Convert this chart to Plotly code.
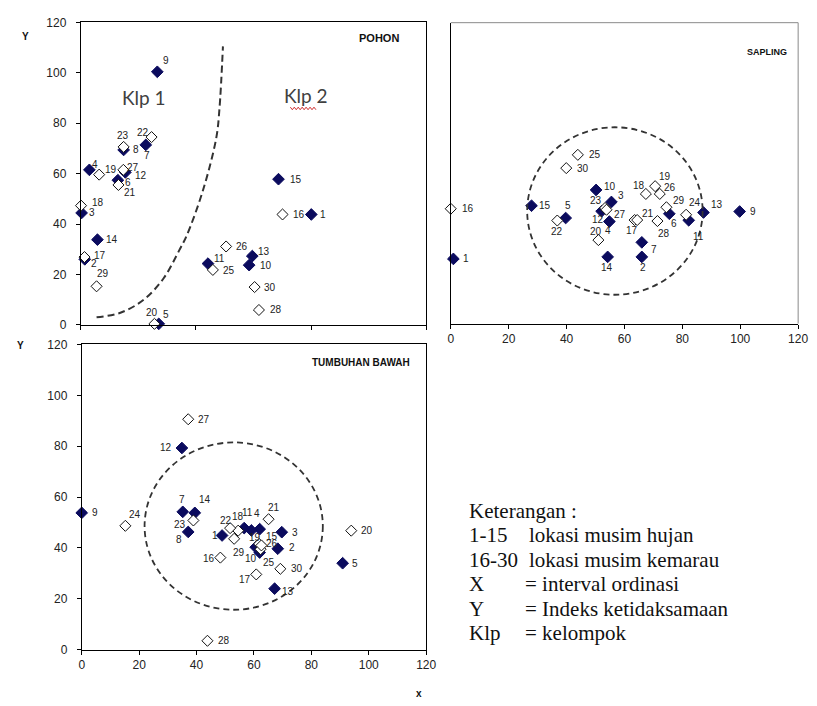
import plotly.graph_objects as go

W, H = 817, 706

# ---------------- data ----------------
ids_rain = list(range(1, 16))     # lokasi musim hujan (filled)
ids_dry = list(range(16, 31))     # lokasi musim kemarau (open)

# POHON
pohon_rain_x = [80.1, 1.4, 0.3, 3.0, 27.1, 12.9, 22.6, 14.9, 26.6, 58.5, 44.2, 15.5, 59.6, 5.8, 68.7]
pohon_rain_y = [43.8, 26.0, 44.4, 61.5, 0.4, 57.4, 71.4, 69.4, 100.4, 23.7, 24.3, 60.5, 27.3, 33.8, 57.8]
pohon_dry_x = [70.1, 1.3, 0.1, 6.4, 25.6, 13.1, 24.6, 14.9, None, 45.9, 50.5, 14.8, 61.9, 5.5, 60.4]
pohon_dry_y = [43.8, 26.9, 47.3, 59.6, 0.4, 55.5, 74.5, 70.6, None, 21.8, 31.1, 61.5, 5.9, 15.3, 15.0]

# SAPLING
sapling_rain_x = [0.9, 66.0, 55.5, 54.8, 39.7, 75.5, 66.0, None, 99.8, 50.2, 82.2, 52.1, 87.3, 54.2, 27.9]
sapling_rain_y = [25.8, 26.6, 48.5, 40.7, 42.1, 43.8, 32.4, None, 44.7, 53.3, 41.2, 44.8, 44.3, 26.6, 47.0]
sapling_dry_x = [0.0, 63.5, 67.4, 70.6, 51.0, 64.4, 36.8, 53.3, 81.3, 43.9, 72.2, 53.8, 71.4, 74.5, 39.9]
sapling_dry_y = [45.8, 41.3, 51.7, 54.8, 33.3, 41.3, 41.1, 46.1, 43.4, 67.3, 51.7, 45.4, 40.9, 46.4, 62.0]

# TUMBUHAN BAWAH
bawah_rain_x = [48.9, 68.3, 69.7, 62.0, 90.9, 59.1, 35.2, 37.1, 0.0, 62.0, 56.6, 34.9, 67.2, 39.4, 60.6]
bawah_rain_y = [44.9, 39.7, 46.2, 47.4, 34.0, 46.9, 54.2, 46.3, 53.8, 38.2, 47.8, 79.3, 24.0, 53.8, 40.3]
bawah_dry_x = [48.3, 60.8, 54.5, 61.8, 93.9, 65.1, 51.7, 38.9, 15.2, 62.3, 62.6, 37.1, 43.8, 53.1, 69.2]
bawah_dry_y = [36.2, 29.6, 46.8, 41.6, 46.8, 51.3, 47.8, 50.8, 48.7, 39.5, 41.0, 90.6, 3.5, 43.6, 31.8]

# hand-drawn separator in POHON (Klp 1 / Klp 2)
pohon_curve_x = [5.5, 14.0, 22.0, 28.8, 34.5, 36.8, 42.5, 47.1, 48.2, 49.4]
pohon_curve_y = [3.0, 4.9, 10.1, 18.5, 30.2, 35.4, 53.5, 74.3, 85.9, 110.5]

# dashed group circles [x0, x1, y0, y1]
sapling_circle = [26.4, 87.0, 11.5, 78.3]
bawah_circle = [21.9, 84.0, 15.7, 81.5]

axis_ticks = [0, 20, 40, 60, 80, 100, 120]
pohon_x_ticks = [0, 40, 80, 120]

legend_rows = [
    ("Keterangan :", ""),
    ("1-15", "lokasi musim hujan"),
    ("16-30", "lokasi musim kemarau"),
    ("X", "= interval ordinasi"),
    ("Y", "= Indeks ketidaksamaan"),
    ("Klp", "= kelompok"),
]

# label offsets (px, dy positive = down)
pohon_lab = {1: (12, 0), 2: (9, 4), 3: (10, 0), 4: (6, -5), 5: (7, -9), 6: (10, 2), 7: (1, 11),
             8: (12, 0), 9: (9, -11), 10: (17, 0), 11: (12, -5), 12: (16, 3), 13: (12, -5),
             14: (15, 0), 15: (18, 0), 16: (16, 0), 17: (16, -2), 18: (17, -3), 19: (12, -5),
             20: (-2, -11), 21: (12, 8), 22: (-9, -5), 23: (-1, -11), 25: (16, 1), 26: (16, 0),
             27: (10, -2), 28: (17, 0), 29: (6, -13), 30: (15, 0)}
sapling_lab = {1: (13, 0), 2: (1, 11), 3: (10, -6), 4: (-1, 9), 5: (2, -13), 6: (5, 10), 7: (12, 7),
               9: (13, 0), 10: (14, -3), 11: (10, 16), 12: (-4, 8), 13: (14, -8), 14: (-1, 11),
               15: (13, 0), 16: (17, 0), 17: (-3, 10), 18: (-7, -8), 19: (10, -10), 20: (-2, -9),
               21: (11, -7), 22: (0, 11), 23: (-9, -7), 24: (9, -12), 25: (17, 0), 26: (10, -6),
               27: (13, 5), 28: (7, 12), 29: (13, -7), 30: (17, 0)}
bawah_lab = {1: (-7, 0), 2: (14, -1), 3: (13, 0), 4: (-3, -16), 5: (12, 0), 7: (-1, -12), 8: (-9, 8),
             9: (13, 0), 10: (-9, 6), 11: (3, -16), 12: (-16, 0), 13: (13, 3), 14: (10, -13),
             15: (16, -11), 16: (-11, 1), 17: (-11, 5), 18: (0, -14), 19: (-4, -6), 20: (16, 0),
             21: (5, -12), 22: (-4, -8), 23: (-13, 4), 24: (10, -11), 25: (8, 13), 26: (11, -2),
             27: (16, 0), 28: (17, 0), 29: (5, 14), 30: (17, 0)}

# ---------------- styling ----------------
NAVY = "#0b0b5e"
SANS = "Liberation Sans"
SERIF = "Liberation Serif"
DASH_COL = "#333333"

def px2paper(x, y):
    return x / W, 1 - y / H

fig = go.Figure()

panels = [
    ("x", "y", pohon_rain_x, pohon_rain_y, pohon_dry_x, pohon_dry_y, pohon_lab),
    ("x2", "y2", sapling_rain_x, sapling_rain_y, sapling_dry_x, sapling_dry_y, sapling_lab),
    ("x3", "y3", bawah_rain_x, bawah_rain_y, bawah_dry_x, bawah_dry_y, bawah_lab),
]

annotations = []
for xa, ya, rx, ry, dx_, dy_, labs in panels:
    fig.add_trace(go.Scatter(x=rx, y=ry, xaxis=xa, yaxis=ya, mode="markers",
                             marker=dict(symbol="diamond", size=9, color=NAVY,
                                         line=dict(color=NAVY, width=1)),
                             cliponaxis=False, showlegend=False, hoverinfo="skip"))
    fig.add_trace(go.Scatter(x=dx_, y=dy_, xaxis=xa, yaxis=ya, mode="markers",
                             marker=dict(symbol="diamond", size=8.5, color="white",
                                         line=dict(color="#111111", width=1)),
                             cliponaxis=False, showlegend=False, hoverinfo="skip"))
    for ids, xs, ys in ((ids_rain, rx, ry), (ids_dry, dx_, dy_)):
        for i, xv, yv in zip(ids, xs, ys):
            if xv is None or i not in labs:
                continue
            ox, oy = labs[i]
            annotations.append(dict(x=xv, y=yv, xref=xa, yref=ya, text=str(i), showarrow=False,
                                    xanchor="center", yanchor="middle", xshift=ox, yshift=-oy,
                                    font=dict(family=SANS, size=10, color="#222222")))

# separator curve
fig.add_trace(go.Scatter(x=pohon_curve_x, y=pohon_curve_y, xaxis="x", yaxis="y", mode="lines",
                         line=dict(color=DASH_COL, width=2, dash="7px,4px", shape="spline"),
                         showlegend=False, hoverinfo="skip"))

shapes = []
for (xa, ya), c in ((("x2", "y2"), sapling_circle), (("x3", "y3"), bawah_circle)):
    shapes.append(dict(type="circle", xref=xa, yref=ya, x0=c[0], x1=c[1], y0=c[2], y1=c[3],
                       line=dict(color=DASH_COL, width=1.8, dash="6px,4px")))

# SAPLING grey frame (top and right)
shapes.append(dict(type="path", xref="x2 domain", yref="y2 domain",
                   path="M0,1 L1,1 L1,0", line=dict(color="#8a8a8a", width=1)))

# red spell-check squiggle under "Klp 2"
sq = []
xx = 292.0
k = 0
while xx <= 319:
    px, py = px2paper(xx, 103.5 + (1.3 if k % 2 else -1.3))
    sq.append(("M" if k == 0 else "L") + f"{px:.5f},{py:.5f}")
    xx += 2.0
    k += 1
shapes.append(dict(type="path", xref="paper", yref="paper", path=" ".join(sq),
                   line=dict(color="#d03030", width=1)))

def txt(x, y, s, size, bold=False, family=SANS, color="#111111", anchor="center"):
    px, py = px2paper(x, y)
    annotations.append(dict(x=px, y=py, xref="paper", yref="paper", text=(f"<b>{s}</b>" if bold else s),
                            showarrow=False, xanchor=anchor, yanchor="middle",
                            font=dict(family=family, size=size, color=color)))

txt(382, 32, "POHON", 11, bold=True)
txt(776, 46, "SAPLING", 9, bold=True)
txt(364, 363, "TUMBUHAN BAWAH", 10, bold=True)
txt(23, 30, "Y", 10, bold=True)
txt(18, 345, "Y", 10, bold=True)
txt(423, 700, "x", 10, bold=True)
txt(143, 92, "Klp 1", 19, family="Lato", color="#404040")
txt(308, 90, "Klp 2", 19, family="Lato", color="#404040")

for r, (a, b) in enumerate(legend_rows):
    y = 514 + 25 * r
    txt(471, y, a, 21, family=SERIF, color="#111111", anchor="left")
    if b:
        txt(528 if b.startswith("=") else 532, y, b, 21, family=SERIF, color="#111111", anchor="left")

tickfont = dict(family=SANS, size=12, color="#222222")
common = dict(range=[0, 120], showgrid=False, zeroline=False, showline=True, linecolor="#000000",
              linewidth=1, ticks="outside", ticklen=4, tickcolor="#000000", tickfont=tickfont,
              fixedrange=True)

fig.update_layout(
    width=W, height=H, margin=dict(l=0, r=0, t=0, b=0),
    paper_bgcolor="white", plot_bgcolor="white", showlegend=False,
    xaxis=dict(common, domain=[79 / W, 430 / W], anchor="y", tickvals=pohon_x_ticks,
               showticklabels=False, mirror=True),
    yaxis=dict(common, domain=[1 - 324.3 / H, 1 - 15.7 / H], anchor="x", tickvals=axis_ticks,
               mirror=True, ticklabelstandoff=7),
    xaxis2=dict(common, domain=[455 / W, 808 / W], anchor="y2", tickvals=axis_ticks),
    yaxis2=dict(common, domain=[1 - 323 / H, 1 - 16 / H], anchor="x2", ticks="",
                showticklabels=False),
    xaxis3=dict(common, domain=[80 / W, 430 / W], anchor="y3", tickvals=axis_ticks, mirror=True),
    yaxis3=dict(common, domain=[1 - 655.7 / H, 1 - 344.3 / H], anchor="x3", tickvals=axis_ticks,
                mirror=True, ticklabelstandoff=7),
    annotations=annotations,
    shapes=shapes,
)

fig.write_html("out.html", config={"displayModeBar": False},
               post_script="document.body.style.margin='0';document.body.style.overflow='hidden';")
